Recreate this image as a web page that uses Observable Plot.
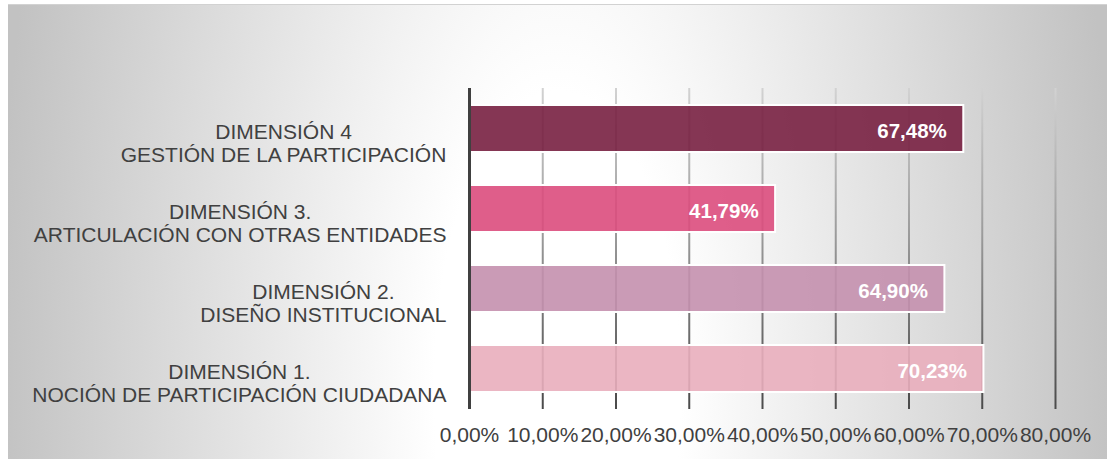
<!DOCTYPE html>
<html>
<head>
<meta charset="utf-8">
<script src="https://cdn.jsdelivr.net/npm/d3@7"></script>
<script src="https://cdn.jsdelivr.net/npm/@observablehq/plot@0.6"></script>
<style>
  html, body { margin: 0; padding: 0; background: #fff; }
</style>
</head>
<body>
<script>
// ---- data ----
const categories = [
  "DIMENSIÓN 1.\nNOCIÓN DE PARTICIPACIÓN CIUDADANA",
  "DIMENSIÓN 2.\nDISEÑO INSTITUCIONAL",
  "DIMENSIÓN 3.\nARTICULACIÓN CON OTRAS ENTIDADES",
  "DIMENSIÓN 4\nGESTIÓN DE LA PARTICIPACIÓN"
];
const values = [70.23, 64.90, 41.79, 67.48];
const barColors = ["#e9aebd", "#c490ae", "#dc4c7d", "#782041"];
const xTicks = [0, 10, 20, 30, 40, 50, 60, 70, 80];

// ---- layout ----
const W = 1107, H = 459, ML = 469, MR = 52, MT = 88, MB = 50;

const fmt = v => v.toFixed(2).replace(".", ",") + "%";
const data = categories.map((c, i) => ({cat: c, value: values[i], color: barColors[i]}));
const order = categories.slice().reverse();

const chart = Plot.plot({
  width: W, height: H,
  marginLeft: ML, marginRight: MR, marginTop: MT, marginBottom: MB,
  style: {
    fontFamily: "'Liberation Sans', Arial, sans-serif",
    fontSize: "21px",
    color: "#404040",
    overflow: "visible",
    background:
      "linear-gradient(#d2d2d2,#d2d2d2) 8px 4px / calc(100% - 8px) 1px no-repeat," +
      "radial-gradient(ellipse 51% 300% at 50% 85%, #ffffff 0%, #ffffff 22%, #c2c2c2 100%) 8px 5px / calc(100% - 8px) calc(100% - 5px) no-repeat," +
      "#ffffff"
  },
  x: {domain: [0, 80]},
  y: {domain: order, paddingInner: 0.41, paddingOuter: 0.205, axis: null},
  color: {type: "identity"},
  marks: [
    Plot.ruleX(xTicks.slice(1), {stroke: "url(#gridGrad)", strokeWidth: 2}),
    Plot.barX(data, {x: "value", y: "cat", fill: "color", fillOpacity: 0.9, stroke: "white", strokeWidth: 2}),
    Plot.ruleX([0], {stroke: "#404040", strokeWidth: 3}),
    Plot.text(data, {x: "value", y: "cat", text: d => fmt(d.value), textAnchor: "end", dx: -17, dy: 2,
      fill: "white", fontWeight: "bold", fontSize: 20.5}),
    Plot.text(categories, {x: 0, y: d => d, text: d => d, textAnchor: "end", dx: -23, dy: 14,
      lineHeight: 1.1, fontSize: 21, fill: "#404040"}),
    Plot.axisX({ticks: xTicks, tickFormat: fmt, tickSize: 0, tickPadding: 18, fontSize: 21, label: null})
  ]
});

document.body.append(chart);

// gradient for gridlines
const ns = "http://www.w3.org/2000/svg";
const defs = document.createElementNS(ns, "defs");
const lg = document.createElementNS(ns, "linearGradient");
lg.setAttribute("id", "gridGrad");
lg.setAttribute("gradientUnits", "userSpaceOnUse");
lg.setAttribute("x1", 0); lg.setAttribute("x2", 0);
lg.setAttribute("y1", MT); lg.setAttribute("y2", H - MB);
[[0, "#d2d2d2"], [0.45, "#9c9c9c"], [1, "#4a4a4a"]].forEach(([o, c]) => {
  const s = document.createElementNS(ns, "stop");
  s.setAttribute("offset", o); s.setAttribute("stop-color", c);
  lg.append(s);
});
defs.append(lg);
chart.insertBefore(defs, chart.firstChild);

// center the two lines of each category label (Excel style), keeping the right edge
const labelSet = new Set(categories.map(c => c.replace("\n", "")));
chart.querySelectorAll("text").forEach(t => {
  if (labelSet.has(t.textContent)) {
    const w = t.getBBox().width;
    t.setAttribute("text-anchor", "middle");
    t.setAttribute("transform", (t.getAttribute("transform") || "") + ` translate(${-w / 2},0)`);
  }
});
</script>
</body>
</html>
